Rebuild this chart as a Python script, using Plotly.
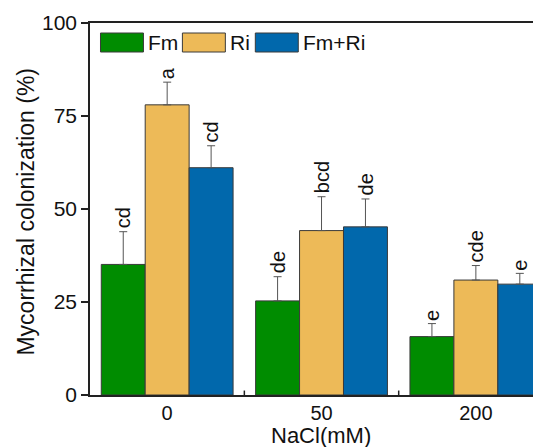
import plotly.graph_objects as go

categories = ["0", "50", "200"]
series_names = ["Fm", "Ri", "Fm+Ri"]
fm_vals = [35.1, 25.3, 15.7]
ri_vals = [78.0, 44.2, 30.9]
fmri_vals = [61.1, 45.2, 29.8]
fm_err = [8.8, 6.5, 3.5]
ri_err = [6.1, 9.1, 3.9]
fmri_err = [5.9, 7.5, 2.9]
fm_letters = ["cd", "de", "e"]
ri_letters = ["a", "bcd", "cde"]
fmri_letters = ["cd", "de", "e"]
y_ticks = [0, 25, 50, 75, 100]

colors = ["#008C00", "#EDBA58", "#0168AC"]
values = [fm_vals, ri_vals, fmri_vals]
errors = [fm_err, ri_err, fmri_err]
letters = [fm_letters, ri_letters, fmri_letters]

FONT = "Liberation Sans, Arial, sans-serif"

fig = go.Figure()
xidx = list(range(len(categories)))
for name, vals, errs, col in zip(series_names, values, errors, colors):
    fig.add_trace(go.Bar(
        x=xidx, y=vals, name=name,
        marker=dict(color=col, line=dict(color="#3a3a3a", width=1)),
        error_y=dict(type="data", array=errs, arrayminus=[0] * len(errs),
                     symmetric=False, color="#555555", thickness=1, width=4),
        showlegend=False,
    ))

# page has an 8px body margin; work in page coordinates
OFF = 8
PW, PH = 541, 447
W, H = PW - OFF, PH - OFF
pL, pT, pB = 89.5, 23, 395   # page coords of plot-area edges
L, T, B, R = pL - OFF, pT - OFF, PH - pB, 0
plot_w = W - L - R
plot_h = H - T - B
xmin, xmax = -0.5, 2.422
px_per_cat = plot_w / (xmax - xmin)
bargap = 0.146
bar_w = px_per_cat * (1 - bargap) / 3


def px(xp):
    return (xp - pL) / plot_w


def py(yp):
    return (pB - yp) / plot_h


annotations = []
for k, (vals, errs, labs) in enumerate(zip(values, errors, letters)):
    for i in xidx:
        annotations.append(dict(
            x=i, y=vals[i] + errs[i], xref="x", yref="y",
            text=labs[i], showarrow=False, textangle=-90,
            xshift=(k - 1) * bar_w, yshift=1,
            xanchor="center", yanchor="bottom",
            font=dict(family=FONT, size=20, color="#111111"),
        ))

# legend drawn manually with large swatches
shapes = []
leg_x = [100, 182, 255]
leg_w = 43
for name, col, lx in zip(series_names, colors, leg_x):
    shapes.append(dict(type="rect", xref="paper", yref="paper",
                       x0=px(lx), x1=px(lx + leg_w),
                       y0=py(52), y1=py(33),
                       fillcolor=col, line=dict(color="#3a3a3a", width=1)))
    annotations.append(dict(
        x=px(lx + leg_w + 3), y=py(42.5),
        xref="paper", yref="paper", text=name, showarrow=False,
        xanchor="left", yanchor="middle",
        font=dict(family=FONT, size=21, color="#111111"),
    ))

# axis titles
annotations.append(dict(
    x=px(321), y=py(436), xref="paper", yref="paper",
    text="NaCl(mM)", showarrow=False, xanchor="center", yanchor="middle",
    font=dict(family=FONT, size=22, color="#111111"),
))
annotations.append(dict(
    x=px(25), y=py(212), xref="paper", yref="paper",
    text="Mycorrhizal colonization (%)", showarrow=False, textangle=-90,
    xanchor="center", yanchor="middle",
    font=dict(family=FONT, size=23, color="#111111"),
))

fig.update_layout(
    width=W, height=H,
    margin=dict(l=L, r=R, t=T, b=B, pad=0, autoexpand=False),
    paper_bgcolor="white", plot_bgcolor="white",
    barmode="group", bargap=bargap, bargroupgap=0,
    annotations=annotations, shapes=shapes,
    font=dict(family=FONT, color="#111111"),
)
fig.update_xaxes(
    range=[xmin, xmax], tickvals=xidx, ticktext=categories,
    showgrid=False, zeroline=False, automargin=False,
    showline=True, linecolor="#222222", linewidth=1.5, mirror=True,
    ticks="", ticklabelstandoff=-1,
    tickfont=dict(family=FONT, size=20, color="#111111"),
)
# inside ticks at category boundaries
for bx in [0.5, 1.5]:
    fig.add_shape(type="line", xref="x", yref="y", x0=bx, x1=bx, y0=0, y1=1.2,
                  line=dict(color="#222222", width=1.5))
fig.update_yaxes(
    range=[0, 100], tickvals=y_ticks,
    showgrid=False, zeroline=False, automargin=False,
    showline=True, linecolor="#222222", linewidth=1.5,
    ticks="outside", ticklen=7, tickwidth=1.5, tickcolor="#222222",
    tickfont=dict(family=FONT, size=21, color="#111111"),
)

fig.write_html("out.html")
